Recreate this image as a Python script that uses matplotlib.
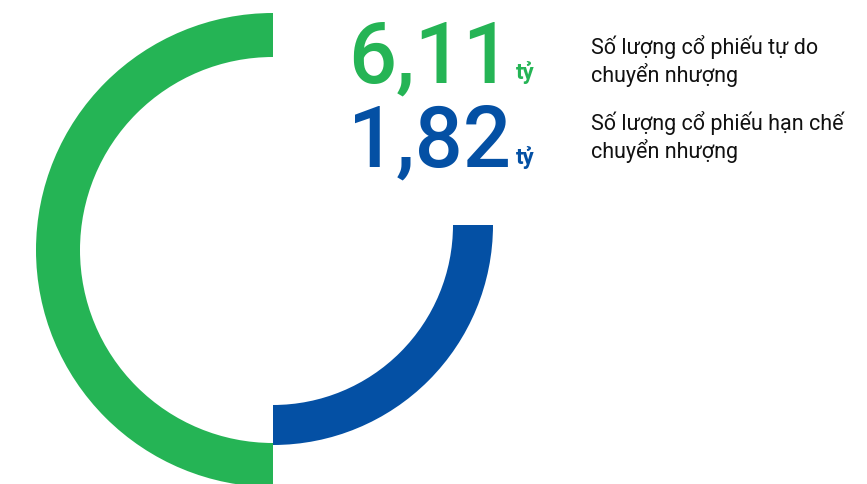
import matplotlib.pyplot as plt
from matplotlib.patches import Wedge

plt.rcParams['font.family'] = ['Roboto', 'DejaVu Sans']

# Data
values = ["6,11", "1,82"]
unit = "tỷ"
labels = ["Số lượng cổ phiếu tự do\nchuyển nhượng",
          "Số lượng cổ phiếu hạn chế\nchuyển nhượng"]
colors = ["#25B455", "#0450A4"]

fig = plt.figure(figsize=(8.67, 4.84), dpi=100)
ax = fig.add_axes([0, 0, 1, 1])
ax.set_xlim(0, 867)
ax.set_ylim(484, 0)
ax.set_aspect('equal')
ax.axis('off')

# rings (pixel space, y down -> angles mirrored)
ax.add_patch(Wedge((273, 250), 237, 90, 270, width=44, color=colors[0], lw=0))
ax.add_patch(Wedge((273, 225), 220, 0, 90, width=40, color=colors[1], lw=0))

# big numbers
num_y = [82, 167]
for v, c, y in zip(values, colors, num_y):
    ax.text(511, y, v, color=c, fontsize=61, fontweight='medium',
            ha='right', va='baseline')
    ax.text(516, y - 3, unit, color=c, fontsize=16, fontweight='bold',
            ha='left', va='baseline')

# labels (y = baseline of second line)
lab_y = [82, 158]
for lab, y in zip(labels, lab_y):
    ax.text(591, y, lab, color='#111111', fontsize=15.5, ha='left',
            va='baseline', linespacing=1.2)

fig.savefig('out.png', dpi=100)
